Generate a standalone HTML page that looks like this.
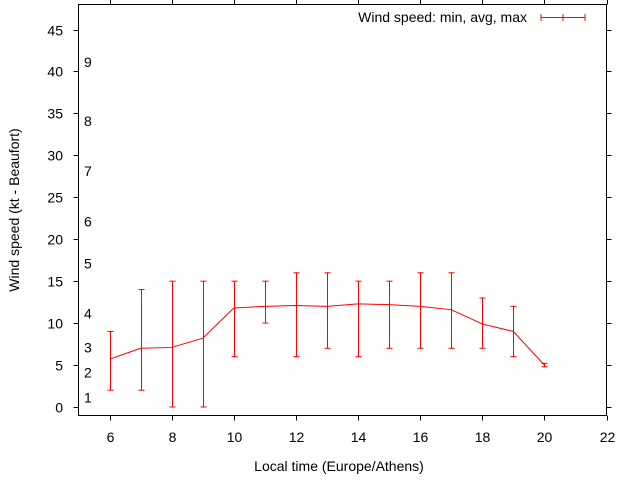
<!DOCTYPE html>
<html><head><meta charset="utf-8"><style>
body{margin:0;background:#fff;}
svg text{font-family:"Liberation Sans",sans-serif;font-size:14px;fill:#000;}
</style></head><body>
<svg id="chart" width="640" height="480" xmlns="http://www.w3.org/2000/svg">
<g id="axes"></g><g id="marks"></g>
<text x="527" y="22" text-anchor="end">Wind speed: min, avg, max</text>
<g stroke="#f00" stroke-width="1">
<line x1="541" y1="17.5" x2="585" y2="17.5"/><line x1="541" y1="14" x2="541" y2="21"/><line x1="563" y1="14" x2="563" y2="21"/><line x1="585" y1="14" x2="585" y2="21"/></g>
<text x="339" y="471" text-anchor="middle">Local time (Europe/Athens)</text>
<text transform="translate(19,210) rotate(-90)" text-anchor="middle">Wind speed (kt - Beaufort)</text>
</svg>
<script>
const hours=[6,7,8,9,10,11,12,13,14,15,16,17,18,19,20];
const avgSpeed=[5.7,7,7.1,8.2,11.8,12,12.1,12,12.3,12.2,12,11.6,9.9,9,5];
const minSpeed=[2,2,0,0,6,10,6,7,6,7,7,7,7,6,4.8];
const maxSpeed=[9,14,15,15,15,15,16,16,15,15,16,16,13,12,5.2];
const xTicks=[6,8,10,12,14,16,18,20,22];
const yTicks=[0,5,10,15,20,25,30,35,40,45];
const beaufort=[1,2,3,4,5,6,7,8,9];
const beaufortKt=[1,4,7,11,17,22,28,34,41];
const L=78.5,R=606.5,T=4.5,B=415.5;
const X=v=>L+(v-5)*(R-L)/17;
const Y=v=>407-v*(407-29.5)/45;
const NS="http://www.w3.org/2000/svg";
function mk(tag,attrs,parent,txt){const e=document.createElementNS(NS,tag);for(const k in attrs)e.setAttribute(k,attrs[k]);if(txt!==undefined)e.textContent=txt;parent.appendChild(e);return e;}
const ax=document.getElementById('axes'),mg=document.getElementById('marks');
const fr=mk('rect',{x:L,y:T,width:R-L,height:B-T,fill:'none',stroke:'#000'},ax);


xTicks.forEach(t=>{const x=Math.round(X(t))+0.5;
 mk('line',{x1:x,y1:B,x2:x,y2:B+5,stroke:'#000'},ax);
 mk('line',{x1:x,y1:T,x2:x,y2:T-5,stroke:'#000'},ax);
 const tx=mk('text',{x:x,y:442,'text-anchor':'middle'},ax,t);
 
 });
yTicks.forEach(t=>{const y=Math.round(Y(t))+0.5;
 mk('line',{x1:L-5,y1:y,x2:L,y2:y,stroke:'#000'},ax);
 mk('line',{x1:R,y1:y,x2:R+5,y2:y,stroke:'#000'},ax);
 const tx=mk('text',{x:63,y:y+5,'text-anchor':'end'},ax,t);
 
 });
beaufort.forEach((b,i)=>{const tx=mk('text',{x:84,y:Y(beaufortKt[i])+4},ax,b);
 
 });
hours.forEach((h,i)=>{const x=Math.round(X(h))+0.5;const g=mk('g',{stroke:'#f00'},mg);
 
 
 mk('line',{x1:x,y1:Y(minSpeed[i]),x2:x,y2:Y(maxSpeed[i])},g);
 mk('line',{x1:x-3,y1:Y(minSpeed[i]),x2:x+3,y2:Y(minSpeed[i])},g);
 mk('line',{x1:x-3,y1:Y(maxSpeed[i]),x2:x+3,y2:Y(maxSpeed[i])},g);});
const pl=mk('polyline',{points:hours.map((h,i)=>X(h)+','+Y(avgSpeed[i])).join(' '),fill:'none',stroke:'#f00'},mg);


</script>
</body></html>
